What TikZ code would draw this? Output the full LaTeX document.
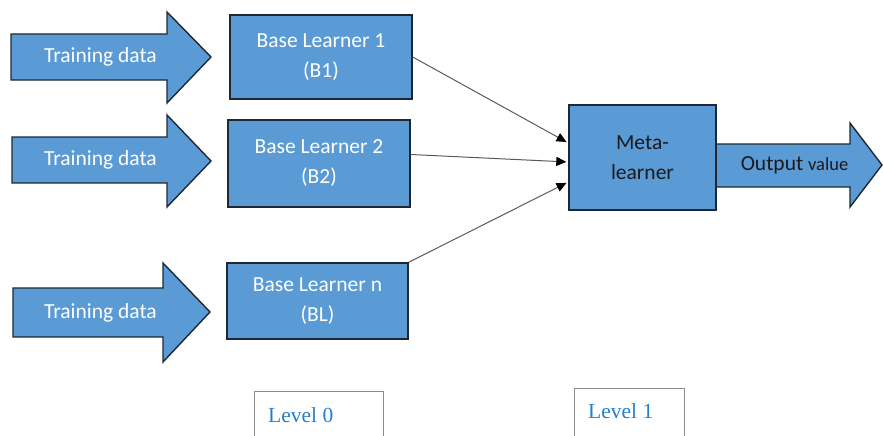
\documentclass[tikz,border=0pt]{standalone}
\usepackage{fontspec}
\setmainfont{Carlito}
\newfontfamily\levelfont{Liberation Serif}
\usetikzlibrary{arrows.meta}
\definecolor{boxblue}{HTML}{5B9BD5}
\definecolor{edgedark}{HTML}{1E2833}
\definecolor{lvlblue}{HTML}{2580CC}
\definecolor{lvlgray}{HTML}{8C8C8C}
\definecolor{linegray}{HTML}{5A5A5A}
\definecolor{darktext}{HTML}{1A1A1A}
\begin{document}
\begin{tikzpicture}[x=1pt,y=-1pt,
  blockarrow/.style={fill=boxblue,draw=edgedark,line width=1.4pt,line join=miter},
  arrowtext/.style={text=white,font=\fontsize{21.5}{30}\selectfont,inner sep=0pt},
  learnerbox/.style={draw=edgedark,fill=boxblue,line width=1.4pt,align=center,
    text=white,font=\fontsize{21.5}{30}\selectfont,inner sep=0pt},
  metabox/.style={learnerbox,text=darktext},
  conn/.style={draw=linegray,line width=1pt,shorten >=2pt,
    -{Triangle[length=10pt,width=9pt,color=black]}},
  levelbox/.style={draw=lvlgray,line width=1.2pt,fill=white,inner sep=0pt},
  leveltext/.style={text=lvlblue,font=\levelfont\fontsize{21.5}{26}\selectfont,inner sep=0pt}]
\useasboundingbox (0,0) rectangle (883,436);
\clip (0,0) rectangle (883,436);

% training data arrows
\draw[blockarrow] (11,34) -- (167,34) -- (167,12) -- (211,57) -- (167,103) -- (167,80) -- (11,80) -- cycle;
\node[arrowtext] (td1) at (100.5,57) {Training data};
\draw[blockarrow] (12,137) -- (167,137) -- (167,115) -- (211,161) -- (167,207) -- (167,183) -- (12,183) -- cycle;
\node[arrowtext] (td2) at (100.5,160) {Training data};
\draw[blockarrow] (13,288) -- (163,288) -- (163,263) -- (210,312) -- (163,362) -- (163,337) -- (13,337) -- cycle;
\node[arrowtext] (td3) at (100.5,312.5) {Training data};

% base learners
\node[learnerbox,minimum width=182pt,minimum height=84pt] (b1) at (321,57) {Base Learner 1\\(B1)};
\node[learnerbox,minimum width=182pt,minimum height=87pt] (b2) at (319,163.5) {Base Learner 2\\(B2)};
\node[learnerbox,minimum width=181pt,minimum height=76pt] (bn) at (317.5,301) {Base Learner n\\(BL)};

% output arrow
\draw[blockarrow] (716,144) -- (850,144) -- (850,123) -- (882,165) -- (850,207) -- (850,187) -- (716,187) -- cycle;
\node[arrowtext,text=darktext] (out) at (794.5,165) {Output {\fontsize{18.5}{26}\selectfont value}};

% meta learner
\node[metabox,minimum width=147pt,minimum height=105pt] (meta) at (642.5,157.5) {Meta-\\learner};

% connectors
\draw[conn] (b1.east) -- ([yshift=14.5pt]meta.west);
\draw[conn] ([yshift=9pt]b2.east) -- ([yshift=-4.5pt]meta.west);
\draw[conn] (bn.north east) -- ([yshift=-24.5pt]meta.west);

% level boxes
\node[levelbox,anchor=north west,minimum width=129pt,minimum height=60pt] (lvl0) at (254,391) {};
\node[leveltext,anchor=base west] (lvl0t) at (268,422) {Level 0};
\node[levelbox,anchor=north west,minimum width=110pt,minimum height=60pt] (lvl1) at (574,388) {};
\node[leveltext,anchor=base west] (lvl1t) at (588,418) {Level 1};
\end{tikzpicture}
\end{document}
